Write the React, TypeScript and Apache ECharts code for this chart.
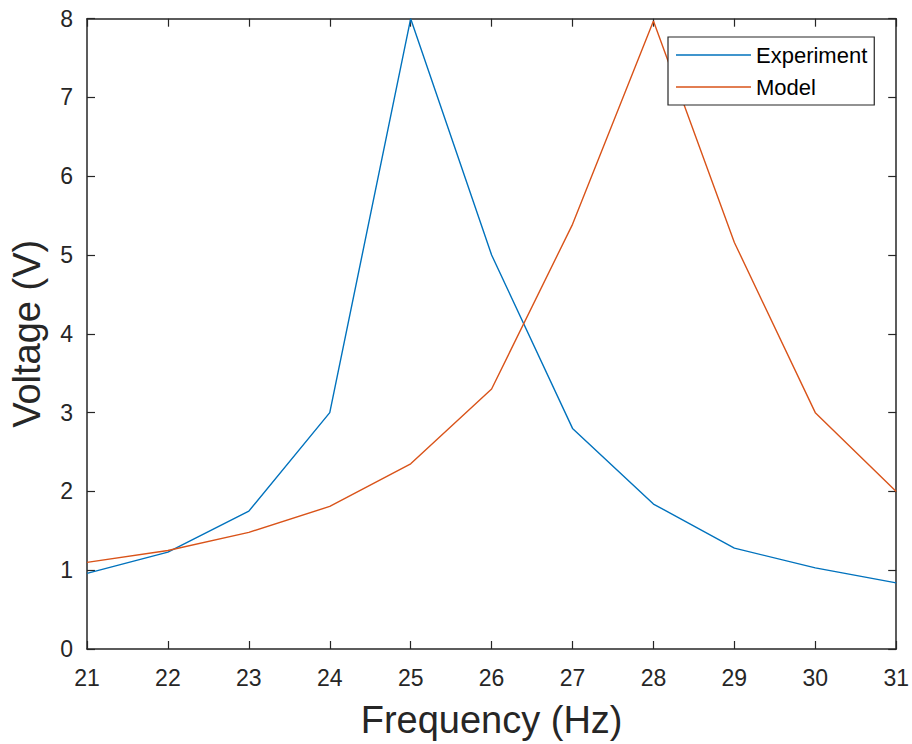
import React, { useEffect, useRef } from "react";
import * as echarts from "echarts";

const frequency = [21, 22, 23, 24, 25, 26, 27, 28, 29, 30, 31];
const experiment = [0.96, 1.23, 1.75, 3.0, 8.0, 5.0, 2.8, 1.84, 1.28, 1.03, 0.84];
const model = [1.1, 1.25, 1.48, 1.81, 2.35, 3.3, 5.39, 7.97, 5.16, 3.0, 2.0];
const seriesNames = ["Experiment", "Model"];
const xTitle = "Frequency (Hz)";
const yTitle = "Voltage (V)";

const FONT = "'Liberation Sans', Arial, Helvetica, sans-serif";
const AXIS = "#262626";

export default function App() {
  const ref = useRef<HTMLDivElement>(null);
  useEffect(() => {
    if (!ref.current) return;
    const chart = echarts.init(ref.current, undefined, { renderer: "svg" });
    const axisCommon = {
      axisLine: { show: true, onZero: false, lineStyle: { color: AXIS, width: 1.5 } },
      axisTick: { show: true, inside: true, length: 8, lineStyle: { color: AXIS, width: 1.2 } },
      splitLine: { show: false },
    };
    chart.setOption({
      animation: false,
      backgroundColor: "#ffffff",
      textStyle: { fontFamily: FONT },
      grid: { left: 86.5, right: 15.5, top: 18.7, bottom: 93.3, containLabel: false },
      legend: {
        orient: "vertical",
        left: 668,
        top: 37,
        padding: [2, 7, 2, 8],
        itemGap: 0,
        itemWidth: 75,
        itemHeight: 1.6,
        icon: "rect",
        itemTextGap: 6,
        borderColor: AXIS,
        borderWidth: 1.2,
        backgroundColor: "#ffffff",
        data: seriesNames,
        textStyle: { fontFamily: FONT, fontSize: 22, color: "#000000", lineHeight: 32 },
      },
      xAxis: [
        {
          type: "value",
          min: 21,
          max: 31,
          interval: 1,
          position: "bottom",
          name: xTitle,
          nameLocation: "middle",
          nameGap: 52,
          nameTextStyle: { fontFamily: FONT, fontSize: 38, color: AXIS },
          axisLabel: { fontFamily: FONT, fontSize: 23, color: AXIS, margin: 17 },
          ...axisCommon,
        },
        {
          type: "value",
          min: 21,
          max: 31,
          interval: 1,
          position: "top",
          axisLabel: { show: false },
          ...axisCommon,
        },
      ],
      yAxis: [
        {
          type: "value",
          min: 0,
          max: 8,
          interval: 1,
          position: "left",
          name: yTitle,
          nameLocation: "middle",
          nameGap: 41,
          nameTextStyle: { fontFamily: FONT, fontSize: 38, color: AXIS },
          axisLabel: { fontFamily: FONT, fontSize: 23, color: AXIS, margin: 14 },
          ...axisCommon,
        },
        {
          type: "value",
          min: 0,
          max: 8,
          interval: 1,
          position: "right",
          axisLabel: { show: false },
          ...axisCommon,
        },
      ],
      series: [
        {
          name: seriesNames[0],
          type: "line",
          xAxisIndex: 0,
          yAxisIndex: 0,
          data: frequency.map((f, i) => [f, experiment[i]]),
          showSymbol: false,
          symbol: "none",
          color: "#0072BD",
          lineStyle: { color: "#0072BD", width: 1.4 },
        },
        {
          name: seriesNames[1],
          type: "line",
          xAxisIndex: 0,
          yAxisIndex: 0,
          data: frequency.map((f, i) => [f, model[i]]),
          showSymbol: false,
          symbol: "none",
          color: "#D95319",
          lineStyle: { color: "#D95319", width: 1.4 },
        },
      ],
    });
    return () => chart.dispose();
  }, []);
  return (
    <div
      ref={ref}
      style={{ position: "fixed", left: 0, top: 0, width: 912, height: 744, background: "#fff" }}
    />
  );
}
